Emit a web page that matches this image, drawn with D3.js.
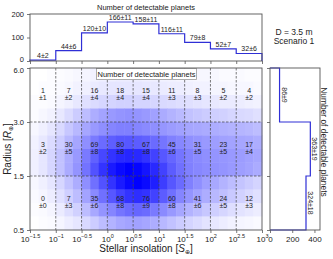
<!DOCTYPE html>
<html><head><meta charset="utf-8">
<script src="https://cdn.jsdelivr.net/npm/d3@7"></script>
<style>
body{margin:0;background:#fff}
svg{display:block}
text{font-family:"Liberation Sans","DejaVu Sans",Arial,sans-serif;fill:#222}
</style>
</head><body>
<svg id="c" width="333" height="259"></svg>
<script>
// ---------------- data ----------------
const xEdges = [-1.5,-1,-0.5,0,0.5,1,1.5,2,2.5,3];          // log10 of stellar insolation
const xTickLabels = ["\u22121.5","\u22121","\u22120.5","0","0.5","1","1.5","2","2.5","3"];
const rEdges = [0.5,1.5,3.0,6.0];
const rTickLabels = ["0.5","1.5","3.0","6.0"];
const topTicks = [0,100,200];
const rightTicks = [0,200,400];
const countsTop = [1,7,16,18,15,11,8,5,4];
const errTop    = [1,2,4,4,4,3,3,2,2];
const countsMid = [3,30,69,80,67,45,31,23,17];
const errMid    = [2,5,8,8,8,6,5,5,4];
const countsBot = [0,7,35,68,76,60,41,24,12];
const errBot    = [0,3,6,8,9,8,6,5,3];
const colTotals = [4,44,120,166,158,116,79,52,32];
const colErr    = [2,6,10,11,11,11,8,7,6];
const rowTotals = [324,363,86];   // bins 0.5-1.5, 1.5-3, 3-6
const rowErr    = [18,19,9];
// density (0-100), rows from R=6 down to R=0.5 (4 per radius bin), 27 columns (3 per half-decade)
const density = [
 [0,0,1, 1,2,3, 4,5,6, 6,7,7, 7,6,6, 5,5,4, 4,3,3, 3,2,2, 2,1,1],
 [0,1,1, 2,3,5, 6,8,9, 10,10,10, 10,9,9, 8,7,7, 6,5,5, 4,4,3, 3,3,2],
 [1,1,2, 4,6,9, 12,14,16, 17,18,18, 17,17,16, 15,14,13, 12,11,10, 9,8,8, 7,6,5],
 [1,3,5, 9,14,20, 26,32,36, 40,42,43, 42,40,37, 33,30,27, 24,22,20, 19,18,16, 15,14,12],
 [3,6,10, 15,22,28, 35,40,44, 48,50,50, 48,46,44, 41,39,37, 35,34,33, 32,31,30, 29,28,26],
 [5,9,14, 20,28,35, 44,52,58, 63,66,66, 64,62,58, 54,50,47, 44,42,40, 38,37,36, 35,34,32],
 [6,10,16, 24,32,40, 52,62,72, 80,84,85, 84,80,74, 66,60,54, 49,46,44, 42,41,40, 39,37,35],
 [6,10,16, 24,33,42, 55,68,80, 90,96,100, 98,92,84, 74,64,56, 50,47,45, 43,42,40, 38,36,33],
 [3,6,10, 16,24,32, 44,56,68, 80,90,97, 100,96,88, 76,66,58, 50,44,38, 34,30,26, 23,20,17],
 [2,4,7, 12,19,26, 36,46,56, 66,74,80, 82,80,74, 64,56,48, 42,37,32, 28,25,21, 18,15,12],
 [1,2,4, 8,13,18, 26,34,42, 48,54,58, 60,58,52, 46,40,35, 30,26,22, 19,16,13, 11,9,7],
 [0,1,2, 4,7,10, 15,20,26, 30,34,36, 37,35,32, 28,24,20, 17,14,11, 9,7,5, 4,3,2]
];

// ---------------- layout ----------------
const svg = d3.select("#c");
const x = d3.scaleLinear().domain([-1.5,3]).range([30,262]);
const y = d3.scaleLinear().domain(rEdges).range([230,176,122,68]);
const yTop = d3.scaleLinear().domain([0,200]).range([61,14]);
const xRight = d3.scaleLinear().domain([0,450]).range([270,320]);
const color = d3.interpolateRgb("#ffffff","#0000ff");
const frameCol = "#555";
const lineCol = "#2f2fd6";

// ---- heatmap ----
const nSubX = 3, nSubY = 4;
const cells = [];
density.forEach((row,r) => {
  const b = 2 - Math.floor(r/nSubY), k = r % nSubY;
  const hi = rEdges[b+1], lo = rEdges[b];
  const rTop = hi - k*(hi-lo)/nSubY, rBot = hi - (k+1)*(hi-lo)/nSubY;
  row.forEach((v,c) => {
    const s0 = -1.5 + c*0.5/nSubX, s1 = -1.5 + (c+1)*0.5/nSubX;
    cells.push({s0,s1,rTop,rBot,v});
  });
});
svg.append("g").selectAll("rect").data(cells).join("rect")
  .attr("x", d=>x(d.s0)).attr("y", d=>y(d.rTop))
  .attr("width", d=>x(d.s1)-x(d.s0)+0.4).attr("height", d=>y(d.rBot)-y(d.rTop)+0.4)
  .attr("fill", d=>color(d.v/100));

// grid lines
const g = svg.append("g").attr("stroke","#444").attr("stroke-width",0.7).attr("stroke-dasharray","2.5,1.5");
xEdges.slice(1,-1).forEach(v => g.append("line").attr("x1",x(v)).attr("x2",x(v)).attr("y1",68).attr("y2",230));
rEdges.slice(1,-1).forEach(v => g.append("line").attr("y1",y(v)).attr("y2",y(v)).attr("x1",30).attr("x2",262));

// cell labels
const binMid = [1.0, 2.25, 4.5];
const allCounts = [countsBot,countsMid,countsTop], allErr = [errBot,errMid,errTop];
allCounts.forEach((arr,b) => {
  arr.forEach((v,i) => {
    const cx = x((xEdges[i]+xEdges[i+1])/2), cy = y(binMid[b]);
    svg.append("text").attr("x",cx).attr("y",cy-2.2).attr("text-anchor","middle").attr("font-size",7).attr("fill","#333").text(v);
    svg.append("text").attr("x",cx).attr("y",cy+5).attr("text-anchor","middle").attr("font-size",7).attr("fill","#333").text("\u00b1"+allErr[b][i]);
  });
});

// legend box inside main
svg.append("rect").attr("x",96.5).attr("y",68.5).attr("width",100).attr("height",11).attr("fill","#fff").attr("stroke","#999").attr("stroke-width",0.8);
svg.append("text").attr("x",146.5).attr("y",76.8).attr("text-anchor","middle").attr("font-size",7.5).text("Number of detectable planets");

// main frame
svg.append("rect").attr("x",30).attr("y",68).attr("width",232).attr("height",162).attr("fill","none").attr("stroke",frameCol).attr("stroke-width",0.9);

function styleAxis(sel){
  sel.select(".domain").remove();
  sel.selectAll(".tick line").attr("stroke",frameCol).attr("stroke-width",0.8);
  sel.attr("font-family",null).attr("font-size",null);
}
// main x axis
const gx = svg.append("g").attr("transform","translate(0,230)")
  .call(d3.axisBottom(x).tickValues(xEdges).tickSize(3).tickSizeOuter(0).tickFormat(()=>""));
styleAxis(gx);
gx.selectAll(".tick text").each(function(d,i){
  const t = d3.select(this).attr("font-size",8).attr("fill","#222").attr("y",6).attr("dy","0.71em");
  t.append("tspan").text("10");
  t.append("tspan").attr("dy",-3.2).attr("font-size",5.5).text(xTickLabels[i]);
});
// main y axis
const gy = svg.append("g").attr("transform","translate(30,0)")
  .call(d3.axisLeft(y).tickValues(rEdges).tickSize(3).tickSizeOuter(0).tickFormat((d,i)=>rTickLabels[i]));
styleAxis(gy);
gy.selectAll(".tick text").attr("font-size",7.5).attr("fill","#222")
  .attr("dy", d => d === 6.0 ? "0.62em" : "0.32em");

// axis labels
const xl = svg.append("text").attr("x",146).attr("y",252).attr("text-anchor","middle").attr("font-size",10);
xl.append("tspan").text("Stellar insolation [");
xl.append("tspan").attr("font-style","italic").text("S");
xl.append("tspan").attr("font-size",6).attr("dy",2).text("\u2295");
xl.append("tspan").attr("dy",-2).text("]");
const yl = svg.append("text").attr("transform","translate(11,149) rotate(-90)").attr("text-anchor","middle").attr("font-size",10);
yl.append("tspan").text("Radius [");
yl.append("tspan").attr("font-style","italic").text("R");
yl.append("tspan").attr("font-size",6).attr("dy",2).text("\u2295");
yl.append("tspan").attr("dy",-2).text("]");

// ---- top panel ----
const topPts = [[x(xEdges[0]), yTop(0)]];
colTotals.forEach((v,i) => { topPts.push([x(xEdges[i]), yTop(v)]); topPts.push([x(xEdges[i+1]), yTop(v)]); });
topPts.push([x(xEdges[xEdges.length-1]), yTop(0)]);
svg.append("path").attr("d", d3.line()(topPts)).attr("fill","none").attr("stroke",lineCol).attr("stroke-width",1.2);
colTotals.forEach((v,i) => {
  svg.append("text").attr("x", x((xEdges[i]+xEdges[i+1])/2)).attr("y", yTop(v)-2).attr("text-anchor","middle")
    .attr("font-size",7).attr("fill","#333").text(v+"\u00b1"+colErr[i]);
});
svg.append("rect").attr("x",30).attr("y",14).attr("width",232).attr("height",47).attr("fill","none").attr("stroke",frameCol).attr("stroke-width",0.9);
const tx = svg.append("g").attr("transform","translate(0,61)")
  .call(d3.axisBottom(x).tickValues(xEdges).tickSize(3).tickSizeOuter(0).tickFormat(()=>""));
styleAxis(tx);
const ty = svg.append("g").attr("transform","translate(30,0)")
  .call(d3.axisLeft(yTop).tickValues(topTicks).tickSize(3).tickSizeOuter(0));
styleAxis(ty);
ty.selectAll(".tick text").attr("font-size",7.5).attr("fill","#222")
  .attr("dy", d => d === 0 ? "0.05em" : "0.32em");
svg.append("text").attr("x",146).attr("y",9.5).attr("text-anchor","middle").attr("font-size",7.5).text("Number of detectable planets");

// ---- right panel ----
const rPts = [[xRight(0), y(rEdges[0])]];
rowTotals.forEach((v,b) => { rPts.push([xRight(v), y(rEdges[b])]); rPts.push([xRight(v), y(rEdges[b+1])]); });
rPts.push([xRight(0), y(rEdges[rEdges.length-1])]);
svg.append("path").attr("d", d3.line()(rPts)).attr("fill","none").attr("stroke",lineCol).attr("stroke-width",1.2);
rowTotals.forEach((v,b) => {
  svg.append("text").attr("transform",`translate(${xRight(v)+2},${y(binMid[b])}) rotate(90)`)
    .attr("text-anchor","middle").attr("font-size",7).attr("fill","#333").text(v+"\u00b1"+rowErr[b]);
});
svg.append("rect").attr("x",270).attr("y",68).attr("width",50).attr("height",162).attr("fill","none").attr("stroke",frameCol).attr("stroke-width",0.9);
const rx = svg.append("g").attr("transform","translate(0,230)")
  .call(d3.axisBottom(xRight).tickValues(rightTicks).tickSize(3).tickSizeOuter(0));
styleAxis(rx);
rx.selectAll(".tick text").attr("font-size",8).attr("fill","#222");
const ry = svg.append("g").attr("transform","translate(270,0)")
  .call(d3.axisLeft(y).tickValues(rEdges).tickSize(3).tickSizeOuter(0).tickFormat(()=>""));
styleAxis(ry);
svg.append("text").attr("transform","translate(321,142) rotate(90)").attr("text-anchor","middle").attr("font-size",8.4).text("Number of detectable planets");

// ---- annotation ----
svg.append("text").attr("x",294).attr("y",35).attr("text-anchor","middle").attr("font-size",8.5).text("D = 3.5 m");
svg.append("text").attr("x",294).attr("y",44).attr("text-anchor","middle").attr("font-size",8.5).text("Scenario 1");
</script>
</body></html>
